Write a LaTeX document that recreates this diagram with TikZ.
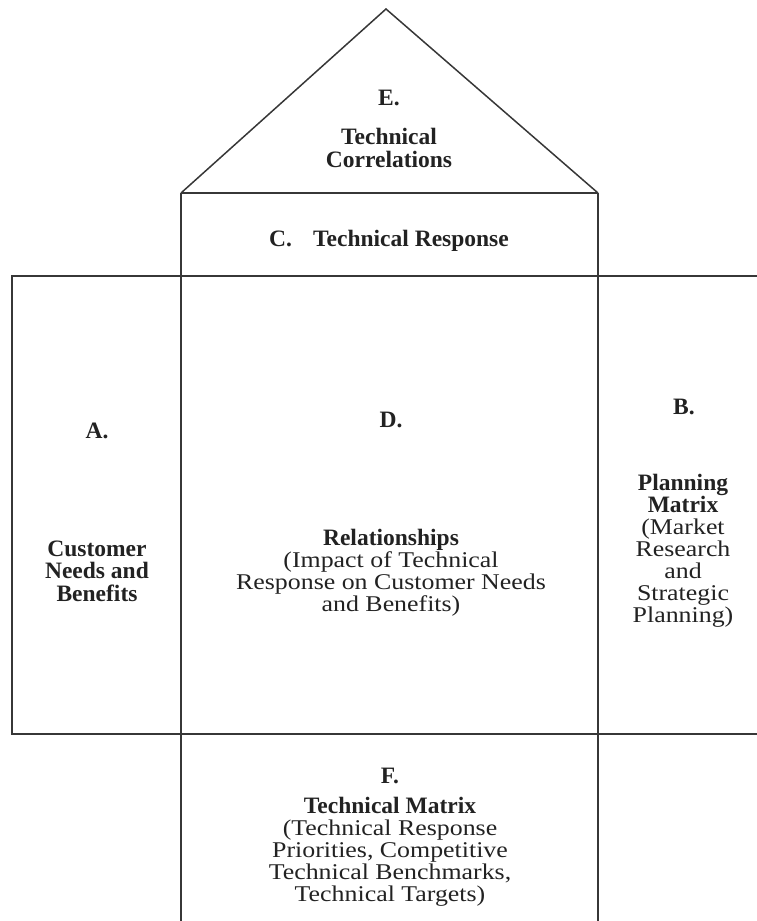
\documentclass[tikz,border=0pt]{standalone}
\usepackage{xcolor}
\usepackage{tikz}
\usepackage{fontspec}
\setmainfont{Liberation Serif}
\newfontfamily\hqplain[FakeStretch=1.15]{Liberation Serif}
\usetikzlibrary{positioning}
\definecolor{hqInk}{RGB}{34, 34, 34}
\definecolor{hqWall}{RGB}{55, 55, 55}
\newcommand\hqsize{\fontsize{23.5}{22.5}\selectfont}
\newcommand\hqsmall{\fontsize{22.5}{22}\selectfont}
\newcommand\hqbold[1]{{\normalfont\hqsize\bfseries #1}}

\begin{document}
\begin{tikzpicture}[x=1pt, y=-1pt,
        wall/.style={draw=hqWall, line width=1.5pt},
        letter/.style={font=\hqsize\bfseries, text=hqInk, inner sep=0pt},
        heading/.style={font=\hqsize\bfseries, text=hqInk, align=center, inner sep=0pt},
        blurb/.style={font=\hqsmall\hqplain, text=hqInk, align=center, inner sep=0pt}]
        \useasboundingbox (0,0) rectangle (757,921);

        % Corners of the house
        \coordinate (apex) at (386,9);
        \coordinate (cTL) at (181,193);
        \coordinate (cTR) at (598,193);
        \coordinate (aTL) at (12,276);
        \coordinate (aBL) at (12,734);
        \coordinate (bTR) at (757,276);
        \coordinate (bBR) at (757,734);
        \coordinate (fBL) at (181,921);
        \coordinate (fBR) at (598,921);

        % Roof and walls
        \draw[wall] (cTL) -- (apex) -- (cTR);
        \draw[wall] (cTL) -- (cTR);
        \draw[wall] (cTL) -- (fBL);
        \draw[wall] (cTR) -- (fBR);
        \draw[wall] (bTR) -- (aTL) -- (aBL) -- (bBR);

        % Roof
        \node[letter] (eLetter) at (389,98) {E.};
        \node[heading] (eText) at (389,148) {Technical\\Correlations};

        % Ceiling
        \node[heading] (cText) at (389,241) {C.\hspace{0.9em}Technical Response};

        % Left wall
        \node[letter] (aLetter) at (97,431) {A.};
        \node[heading] (aText) at (97,571) {Customer\\Needs and\\Benefits};

        % Rooms
        \node[letter] (dLetter) at (391,420) {D.};
        \node[blurb] (dText) at (391,573)
            {\hqbold{Relationships}\\(Impact of Technical\\Response on Customer Needs\\and Benefits)};

        % Right wall
        \node[letter] (bLetter) at (684,407) {B.};
        \node[blurb] (bText) at (683,551)
            {\hqbold{Planning}\\\hqbold{Matrix}\\(Market\\Research\\and\\Strategic\\Planning)};

        % Basement
        \node[letter] (fLetter) at (390,776) {F.};
        \node[blurb] (fText) at (390,852)
            {\hqbold{Technical Matrix}\\(Technical Response\\Priorities, Competitive\\Technical Benchmarks,\\Technical Targets)};
    \end{tikzpicture}
\end{document}
